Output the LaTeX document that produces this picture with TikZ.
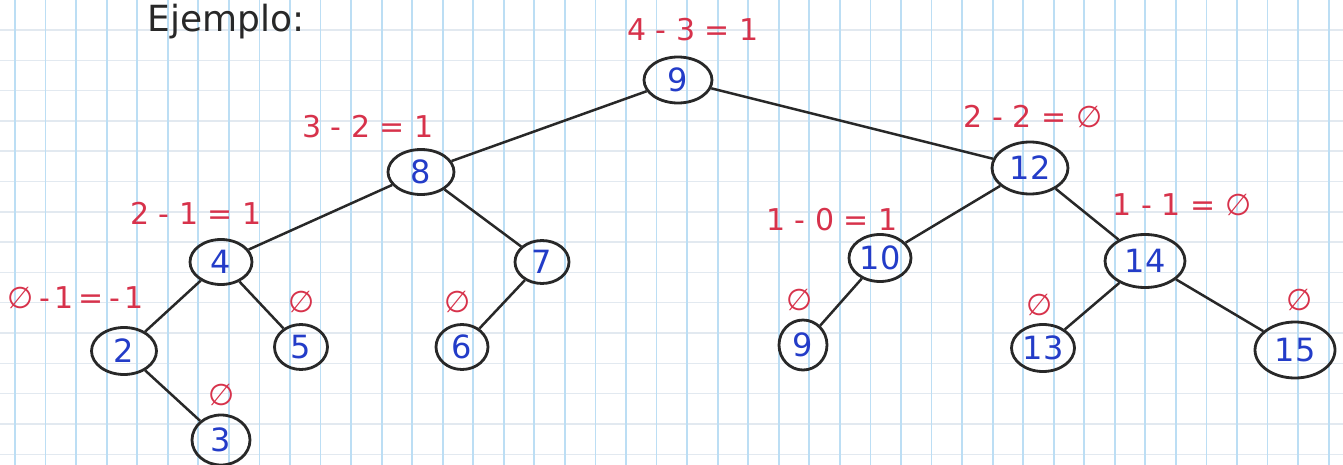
\documentclass[tikz,border=0pt]{standalone}
\usepackage{fontspec}
\setmainfont{DejaVu Sans}
\usetikzlibrary{shapes.geometric}
\definecolor{gridblue}{RGB}{188,222,244}
\definecolor{gridfaint}{RGB}{226,233,240}
\definecolor{numblue}{RGB}{35,60,200}
\definecolor{labred}{RGB}{215,50,75}
\definecolor{inkgray}{RGB}{40,40,40}
\tikzset{
  gridv/.style={gridblue, line width=1.8pt},
  gridh/.style={gridfaint, line width=1.4pt},
  tnode/.style={ellipse, draw=inkgray, line width=2.8pt, inner sep=0pt,
    text=numblue, font=\fontsize{32}{34}\selectfont},
  tlab/.style={text=labred, inner sep=0pt, font=\fontsize{30}{32}\selectfont},
  tedge/.style={inkgray, line width=2.5pt},
}
\begin{document}
\begin{tikzpicture}[x=1pt, y=-1pt]
\useasboundingbox (0,0) rectangle (1343,465);
\fill[white] (0,0) rectangle (1343,465);
% graph paper
\foreach \j in {0,...,14} \draw[gridh] (0,{30+30.3*\j}) -- (1343,{30+30.3*\j});
\foreach \i in {0,...,43} \draw[gridv] ({15+30.55*\i},0) -- ({15+30.55*\i},465);
% title
\node[text=inkgray, inner sep=0pt, font=\fontsize{36}{38}\selectfont] (title) at (226,22) {Ejemplo:};
% nodes
\node[tnode, minimum width=68pt, minimum height=46pt] (n9) at (678,80) {9};
\node[tnode, minimum width=66pt, minimum height=45pt] (n8) at (421,172) {8};
\node[tnode, minimum width=76pt, minimum height=52pt] (n12) at (1030,168) {12};
\node[tnode, minimum width=62pt, minimum height=45pt] (n4) at (221,262) {4};
\node[tnode, minimum width=54pt, minimum height=43pt] (n7) at (542,262) {7};
\node[tnode, minimum width=62pt, minimum height=47pt] (n10) at (880,258) {10};
\node[tnode, minimum width=80pt, minimum height=53pt] (n14) at (1145,261) {14};
\node[tnode, minimum width=65pt, minimum height=47pt] (n2) at (124,351) {2};
\node[tnode, minimum width=53pt, minimum height=45pt] (n5) at (301,347) {5};
\node[tnode, minimum width=58pt, minimum height=50pt] (n3) at (221,440) {3};
\node[tnode, minimum width=52pt, minimum height=45pt] (n6) at (462,347) {6};
\node[tnode, minimum width=48pt, minimum height=50pt] (n9b) at (803,345) {9};
\node[tnode, minimum width=63pt, minimum height=47pt] (n13) at (1043,348) {13};
\node[tnode, minimum width=80pt, minimum height=56pt] (n15) at (1295,350) {15};
% edges
\draw[tedge] (n9) -- (n8);
\draw[tedge] (n9) -- (n12);
\draw[tedge] (n8) -- (n4);
\draw[tedge] (n8) -- (n7);
\draw[tedge] (n4) -- (n2);
\draw[tedge] (n4) -- (n5);
\draw[tedge] (n2) -- (n3);
\draw[tedge] (n7) -- (n6);
\draw[tedge] (n12) -- (n10);
\draw[tedge] (n12) -- (n14);
\draw[tedge] (n10) -- (n9b);
\draw[tedge] (n14) -- (n13);
\draw[tedge] (n14) -- (n15);
% balance labels
\node[tlab] (l9) at (693,30) {4 - 3 = 1};
\node[tlab] (l8) at (368,127) {3 - 2 = 1};
\node[tlab] (l4) at (196,213) {2 - 1 = 1};
\node[tlab] (l2) at (76,298) {∅\,-\,1\,=\,-\,1};
\node[tlab] (l5) at (302,302) {∅};
\node[tlab] (l3) at (222,395) {∅};
\node[tlab] (l6) at (458,302) {∅};
\node[tlab] (l12) at (1033,117) {2 - 2 = ∅};
\node[tlab] (l10) at (832,220) {1 - 0 = 1};
\node[tlab] (l14) at (1182,205) {1 - 1 = ∅};
\node[tlab] (l9b) at (800,300) {∅};
\node[tlab] (l13) at (1040,305) {∅};
\node[tlab] (l15) at (1300,300) {∅};
\end{tikzpicture}
\end{document}
